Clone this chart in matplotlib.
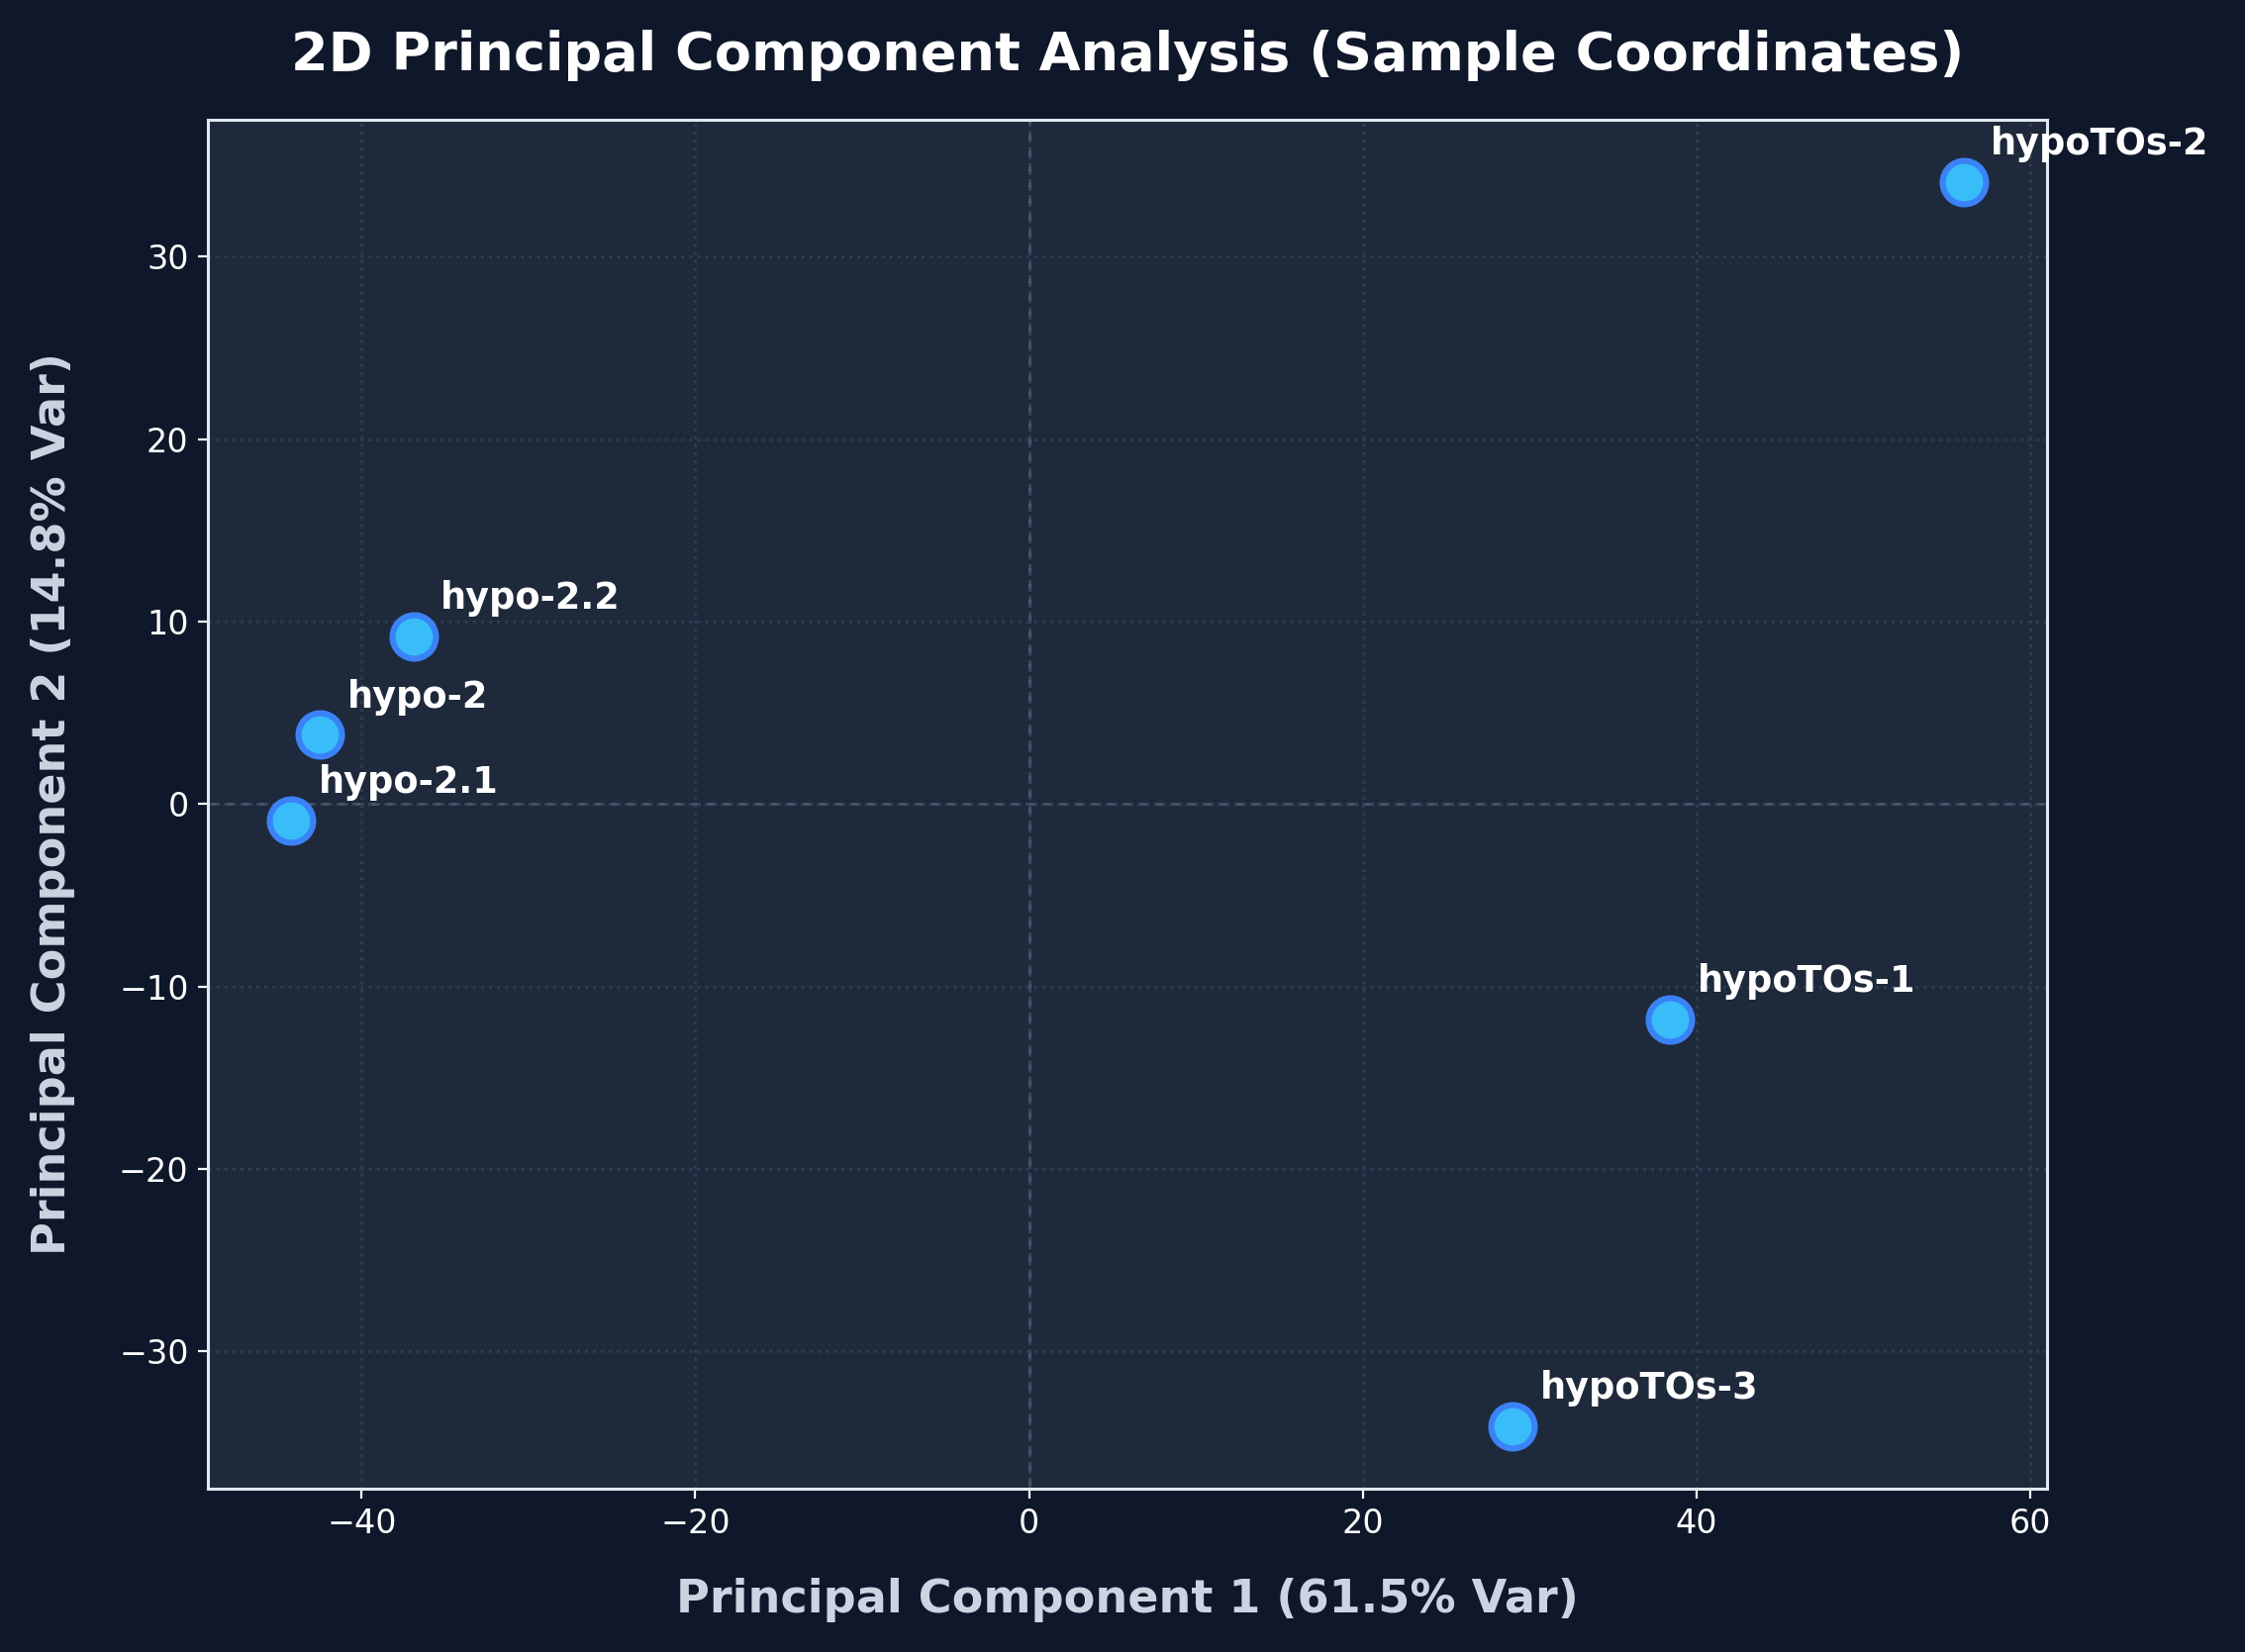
import matplotlib
matplotlib.use("Agg")
import matplotlib.pyplot as plt

# PCA coordinates
samples = ["hypoTOs-2", "hypoTOs-1", "hypoTOs-3", "hypo-2.2", "hypo-2", "hypo-2.1"]
pc1 = [56.0, 38.4, 29.0, -36.9, -42.5, -44.2]
pc2 = [34.1, -11.8, -34.1, 9.2, 3.8, -0.9]
var_pc1 = 61.5
var_pc2 = 14.8

fig_bg = "#0f172a"
ax_bg = "#1e293b"

fig = plt.figure(figsize=(11.34, 8.345), dpi=200, facecolor=fig_bg)
ax = fig.add_axes([0.0926, 0.0989, 0.8192, 0.8286])
ax.set_facecolor(ax_bg)

ax.scatter(pc1, pc2, s=250, c="#38bdf8", edgecolors="#3b82f6", linewidths=2.2, zorder=3)

for name, x, y in zip(samples, pc1, pc2):
    ax.annotate(name, (x, y), xytext=(10, 10), textcoords="offset points",
                color="white", fontsize=13.2, fontweight="bold", zorder=4)

ax.axhline(0, color="#475569", linestyle="--", linewidth=1.1, zorder=1)
ax.axvline(0, color="#475569", linestyle="--", linewidth=1.1, zorder=1)
ax.grid(True, color="#334155", linestyle=":", linewidth=1.1, alpha=0.8, zorder=0)

for sp in ax.spines.values():
    sp.set_color("#e2e8f0")
    sp.set_linewidth(1.1)
ax.tick_params(colors="white", labelsize=12)

ax.set_xlabel(f"Principal Component 1 ({var_pc1}% Var)", color="#cbd5e1",
              fontsize=16.6, fontweight="bold", labelpad=13.5)
ax.set_ylabel(f"Principal Component 2 ({var_pc2}% Var)", color="#cbd5e1",
              fontsize=16.6, fontweight="bold", labelpad=16)
ax.set_title("2D Principal Component Analysis (Sample Coordinates)", color="white",
             fontsize=19.5, fontweight="bold", pad=18)

fig.savefig("out.png", dpi=200, facecolor=fig_bg)
